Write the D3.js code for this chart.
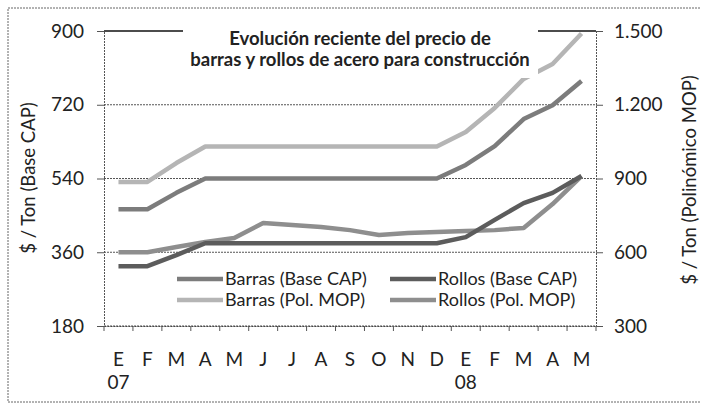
<!DOCTYPE html>
<html>
<head>
<meta charset="utf-8">
<script src="https://cdn.jsdelivr.net/npm/d3@7"></script>
<style>
  body { margin: 0; background: #fff; }
  text { font-family: Lato, "Open Sans", sans-serif; fill: #222; }
</style>
</head>
<body>
<div id="chart"></div>
<script>
// months E 07 .. M 08
let months = ["E", "F", "M", "A", "M", "J", "J", "A", "S", "O", "N", "D", "E", "F", "M", "A", "M"];
let years = ["07", "", "", "", "", "", "", "", "", "", "", "", "08", "", "", "", ""];

// left axis ($ / Ton Base CAP)
let barrasCap = [465, 465, 505, 540, 540, 540, 540, 540, 540, 540, 540, 540, 573, 619, 685, 719, 778];
let rollosCap = [326, 326, 353, 382, 382, 382, 382, 382, 382, 382, 382, 382, 397, 439, 480, 505, 546];
// right axis ($ / Ton Polinómico MOP)
let barrasMop = [886, 886, 963, 1030, 1030, 1030, 1030, 1030, 1030, 1030, 1030, 1030, 1089, 1187, 1305, 1366, 1490];
let rollosMop = [600, 600, 621, 642, 658, 719, 711, 703, 690, 670, 678, 682, 686, 690, 699, 796, 910];

let leftTicks = [180, 360, 540, 720, 900];
let rightTicks = [300, 600, 900, 1200, 1500];

let svgWidth = 701, svgHeight = 405;
let margin = { top: 31, right: 105, bottom: 79, left: 104 };
let width = svgWidth - margin.left - margin.right;
let height = svgHeight - margin.top - margin.bottom;

let svg = d3.select("#chart").append("svg")
  .attr("width", svgWidth)
  .attr("height", svgHeight);

// outer dashed frame
svg.append("rect")
  .attr("x", 8).attr("y", 8)
  .attr("width", 698).attr("height", 394)
  .attr("fill", "none")
  .attr("stroke", "#666")
  .attr("stroke-width", 1)
  .attr("stroke-dasharray", "2,1");

let g = svg.append("g")
  .attr("transform", `translate(${margin.left}, ${margin.top})`);

let idx = d3.range(months.length);
let xScale = d3.scaleBand().domain(idx).range([0, width]).padding(0);
let xc = i => xScale(i) + xScale.bandwidth() / 2;

let yLeft = d3.scaleLinear().domain([180, 900]).range([height, 0]);
let yRight = d3.scaleLinear().domain([300, 1500]).range([height, 0]);

// gridlines
g.append("g")
  .selectAll("line")
  .data(leftTicks.slice(0, -1))
  .enter().append("line")
  .attr("x1", 0).attr("x2", width)
  .attr("y1", d => yLeft(d)).attr("y2", d => yLeft(d))
  .attr("stroke", "#555")
  .attr("stroke-width", 1)
  .attr("stroke-dasharray", "2,1");

g.append("line")
  .attr("x1", 0).attr("x2", width)
  .attr("y1", yLeft(900)).attr("y2", yLeft(900))
  .attr("stroke", "#111")
  .attr("stroke-width", 1.5);

// axes
let leftAxis = d3.axisLeft(yLeft).tickValues(leftTicks).tickSize(7).tickPadding(13);
let rightAxis = d3.axisRight(yRight).tickValues(rightTicks).tickSize(7).tickPadding(11)
  .tickFormat(d => d3.format(",")(d).replace(",", "."));
let bottomAxis = d3.axisBottom(xScale).tickSize(0).tickFormat("");

function styleAxis(sel) {
  sel.select(".domain").attr("stroke", "#555").attr("stroke-dasharray", "2,1");
  sel.selectAll(".tick line").attr("stroke", "#555");
  sel.selectAll(".tick text").style("font-size", "19px").attr("fill", "#222");
}

g.append("g").call(leftAxis).call(styleAxis);
g.append("g").attr("transform", `translate(${width}, 0)`).call(rightAxis).call(styleAxis);
g.append("g").attr("transform", `translate(0, ${height})`).call(bottomAxis)
  .call(s => s.select(".domain").attr("stroke", "#444").attr("stroke-dasharray", "2,1"));

// bottom tick marks at category boundaries
g.append("g")
  .selectAll("line")
  .data(idx.concat([months.length]))
  .enter().append("line")
  .attr("x1", d => d * xScale.step()).attr("x2", d => d * xScale.step())
  .attr("y1", height).attr("y2", height + 5)
  .attr("stroke", "#555");

// month labels
g.append("g")
  .selectAll("text")
  .data(idx)
  .enter().append("text")
  .attr("x", xc)
  .attr("y", height + 40)
  .attr("text-anchor", "middle")
  .style("font-size", "19px")
  .text(i => months[i]);

g.append("g")
  .selectAll("text")
  .data(idx.filter(i => years[i]))
  .enter().append("text")
  .attr("x", xc)
  .attr("y", height + 63)
  .attr("text-anchor", "middle")
  .style("font-size", "19px")
  .text(i => years[i]);

// series
let series = [
  { name: "Barras (Base CAP)", values: barrasCap, y: yLeft, color: "#7c7c7c" },
  { name: "Rollos (Base CAP)", values: rollosCap, y: yLeft, color: "#5c5c5c" },
  { name: "Barras (Pol. MOP)", values: barrasMop, y: yRight, color: "#b5b5b5" },
  { name: "Rollos (Pol. MOP)", values: rollosMop, y: yRight, color: "#8e8e8e" }
];

// draw order so dark lines sit on top like the reference
[2, 3, 0, 1].forEach(k => {
  let s = series[k];
  let line = d3.line().x((d, i) => xc(i)).y(d => s.y(d));
  g.append("path")
    .datum(s.values)
    .attr("d", line)
    .attr("fill", "none")
    .attr("stroke", s.color)
    .attr("stroke-width", 4.5)
    .attr("stroke-linejoin", "round");
});

// title box (covers the top gridline, like the original)
svg.append("rect")
  .attr("x", 183).attr("y", 20)
  .attr("width", 355).attr("height", 58)
  .attr("fill", "#fff");

svg.append("text")
  .attr("x", 360).attr("y", 45)
  .attr("text-anchor", "middle")
  .style("font-size", "18.5px")
  .style("font-weight", "bold")
  .text("Evolución reciente del precio de");

svg.append("text")
  .attr("x", 360).attr("y", 66)
  .attr("text-anchor", "middle")
  .style("font-size", "18.5px")
  .style("font-weight", "bold")
  .text("barras y rollos de acero para construcción");

// legend
let legendPos = [[177, 279], [390, 279], [177, 300], [390, 300]];
series.forEach((s, k) => {
  let [lx, ly] = legendPos[k];
  svg.append("line")
    .attr("x1", lx).attr("x2", lx + 46)
    .attr("y1", ly).attr("y2", ly)
    .attr("stroke", s.color)
    .attr("stroke-width", 4.5);
  svg.append("text")
    .attr("x", lx + 48).attr("y", ly)
    .attr("dy", "0.35em")
    .style("font-size", "18px")
    .text(s.name);
});

// axis titles
svg.append("text")
  .attr("transform", "translate(35, 178) rotate(-90)")
  .attr("text-anchor", "middle")
  .style("font-size", "18.5px")
  .text("$ / Ton (Base CAP)");

svg.append("text")
  .attr("transform", "translate(696, 180) rotate(-90)")
  .attr("text-anchor", "middle")
  .style("font-size", "18.5px")
  .text("$ / Ton (Polinómico MOP)");
</script>
</body>
</html>
